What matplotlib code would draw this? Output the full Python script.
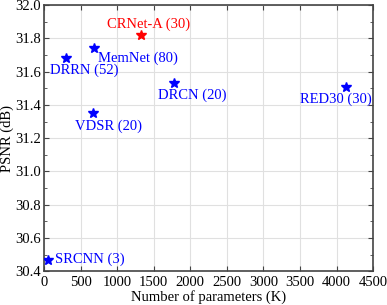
import matplotlib
matplotlib.use("Agg")
import matplotlib.pyplot as plt
from matplotlib.ticker import MultipleLocator

plt.rcParams['font.family'] = ['Liberation Serif', 'DejaVu Serif']

names = ["SRCNN (3)", "DRRN (52)", "MemNet (80)", "VDSR (20)", "CRNet-A (30)", "DRCN (20)", "RED30 (30)"]
params = [57, 297, 677, 667, 1330, 1774, 4131]
psnr = [30.47, 31.68, 31.74, 31.35, 31.82, 31.53, 31.51]
colors = ["blue", "blue", "blue", "blue", "red", "blue", "blue"]
# label offsets in pixels (dx, dy) and alignment
offsets = [(7, 0, 'left', 'center'), (18, -5, 'center', 'top'), (4, -3, 'left', 'top'),
           (16, -6, 'center', 'top'), (7, 4, 'center', 'bottom'), (18, -5, 'center', 'top'),
           (-10, -6, 'center', 'top')]

fig = plt.figure(figsize=(3.87, 3.05), dpi=100)
ax = fig.add_axes([0.114, 0.111, 0.85, 0.872])

for n, x, y, c, (dx, dy, ha, va) in zip(names, params, psnr, colors, offsets):
    ax.plot(x, y, marker='*', color=c, markersize=7, linestyle='none', zorder=3)
    ax.annotate(n, (x, y), xytext=(dx, dy), textcoords='offset pixels',
                ha=ha, va=va, color=c, fontsize=10.5)

ax.set_xlim(0, 4500)
ax.set_ylim(30.4, 32.0)
ax.xaxis.set_major_locator(MultipleLocator(500))
ax.yaxis.set_minor_locator(MultipleLocator(0.1))
ax.set_yticks([30.4 + 0.2 * i for i in range(9)])
ax.set_yticklabels([f"{30.4 + 0.2 * i:.1f}" for i in range(9)])
ax.grid(True, which='major', color='#e0e0e0', linewidth=0.8)
ax.set_axisbelow(True)
ax.tick_params(which='both', direction='in', top=True, right=True, labelsize=10.5, colors='#444444')
ax.tick_params(which='major', length=3.5)
ax.tick_params(axis='y', which='major', pad=2)
ax.tick_params(which='minor', length=2, bottom=False, top=False)
for lab in ax.get_xticklabels() + ax.get_yticklabels():
    lab.set_color('black')
for s in ax.spines.values():
    s.set_color('#444444')
    s.set_linewidth(1.2)
ax.set_xlabel("Number of parameters (K)", fontsize=10.5, labelpad=1)
ax.set_ylabel("PSNR (dB)", fontsize=10.5, labelpad=1)

fig.savefig("out.png", dpi=100)
